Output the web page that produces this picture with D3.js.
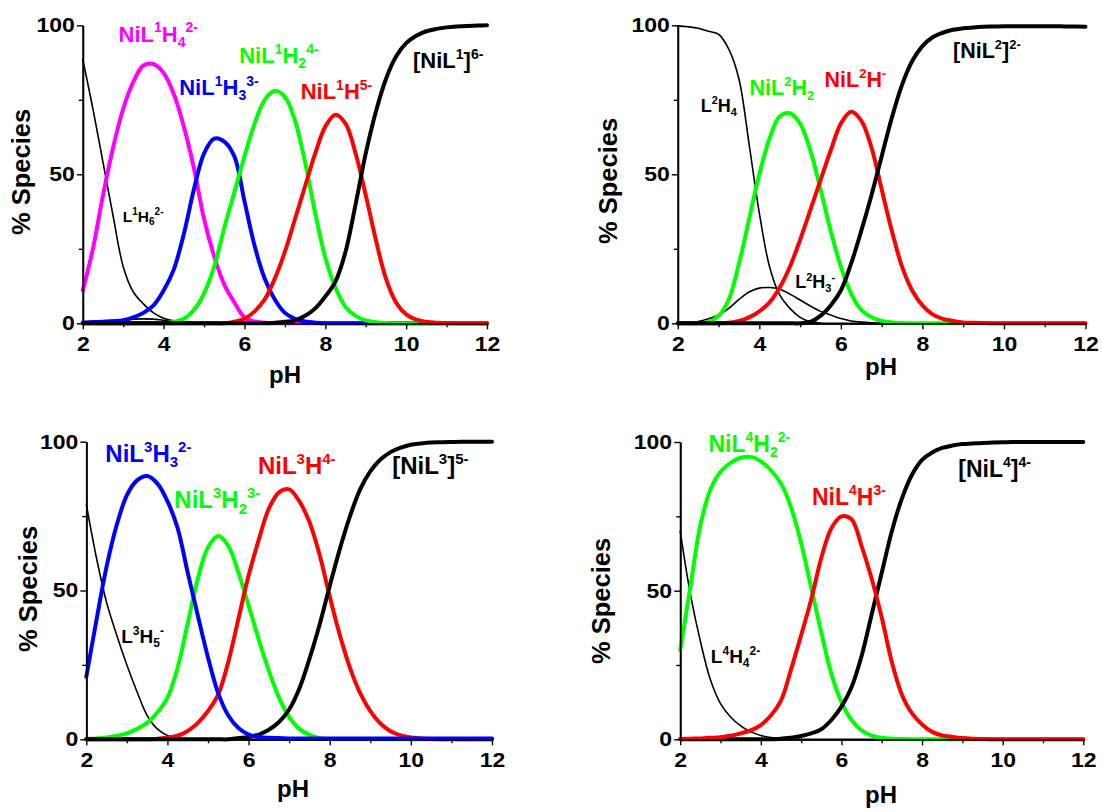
<!DOCTYPE html>
<html><head><meta charset="utf-8">
<script src="https://cdn.jsdelivr.net/npm/d3@7"></script>
<style>
body{margin:0;background:#fff}
svg{display:block}
text{font-family:"Liberation Sans",Arial,sans-serif;font-weight:bold}
</style>
</head><body><svg id="c" width="1102" height="812"></svg>
<script>
// ---------- DATA ----------
const pH = [2,2.25,2.5,2.75, 3,3.25,3.5,3.75, 4,4.25,4.5,4.75, 5,5.25,5.5,5.75, 6,6.25,6.5,6.75,
            7,7.25,7.5,7.75, 8,8.25,8.5,8.75, 9,9.25,9.5,9.75, 10,10.25,10.5,10.75, 11,11.25,11.5,11.75, 12];
const xTicks = [2,4,6,8,10,12];
const xMinor = [3,5,7,9,11];
const yTicks = [0,50,100];
const yMinor = [25,75];

// Panel 1 (L1)
const L1H6   = [88.5,72,54,36, 19,10.5,6.5,3.5, 1.7,0.8,0.3,0.1, 0,0,0,0, 0,0,0,0, 0,0,0,0, 0,0,0,0, 0,0,0,0, 0,0,0,0, 0,0,0,0, 0];
const L1H5   = [0.5,0.6,0.8,1, 1.2,1.4,1.5,1.4, 1,0.7,0.4,0.2, 0.1,0,0,0, 0,0,0,0, 0,0,0,0, 0,0,0,0, 0,0,0,0, 0,0,0,0, 0,0,0,0, 0];
const NiL1H4 = [11,25,43,59, 72,81,86.5,87, 84,77,66,52, 35,22.5,13,7, 2,0.6,0.2,0, 0,0,0,0, 0,0,0,0, 0,0,0,0, 0,0,0,0, 0,0,0,0, 0];
const NiL1H3 = [0.3,0.4,0.5,0.7, 1,2,3.5,6, 11,18,30,45, 57,62,61,56, 41,26,15,8, 3.5,1.5,0.6,0.2, 0,0,0,0, 0,0,0,0, 0,0,0,0, 0,0,0,0, 0];
const NiL1H2 = [0,0,0,0, 0,0,0,0, 0,0.5,1.5,4.5, 10,19,32,44, 56,67,75,78, 76,68,54,37, 22,12,5.5,2.5, 1,0.4,0.1,0, 0,0,0,0, 0,0,0,0, 0];
const NiL1H  = [0,0,0,0, 0,0,0,0, 0,0,0,0, 0,0,0,0.5, 1.5,4,8,15, 24,35,46,57, 66,70,67,57, 43,28,15,7, 3,1.2,0.5,0.2, 0.1,0,0,0, 0];
const NiL1   = [0,0,0,0, 0,0,0,0, 0,0,0,0, 0,0,0,0, 0,0,0,0.2, 0.5,1,2.5,5, 9,14,24,40, 57,71,82,89.5, 94,96.5,98,98.8, 99.3,99.6,99.8,99.9, 100];

// Panel 2 (L2)
const L2H4   = [99.8,99.5,99,98, 97,92,82,60, 37,19,9.5,5, 2,0.5,0.1,0, 0,0,0,0, 0,0,0,0, 0,0,0,0, 0,0,0,0, 0,0,0,0, 0,0,0,0, 0];
const L2H3   = [0.1,0.3,0.6,1.5, 2.8,5,8,10.5, 11.8,12,11.4,9.8, 7.8,5.8,4,2.8, 1.6,0.8,0.4,0.2, 0.1,0,0,0, 0,0,0,0, 0,0,0,0, 0,0,0,0, 0,0,0,0, 0];
const NiL2H2 = [0,0,0,0.5, 2.5,8,20,35, 50,62,69.5,70.5, 67,58,45,31, 19,10,4.5,2, 0.8,0.3,0.1,0, 0,0,0,0, 0,0,0,0, 0,0,0,0, 0,0,0,0, 0];
const NiL2H  = [0,0,0,0, 0,0.2,0.8,2, 4,7,12,19, 28,38,48,58, 67,71,68,59, 45,31,19,11, 6,3,1.5,0.8, 0.3,0.2,0.1,0, 0,0,0,0, 0,0,0,0, 0];
const NiL2   = [0,0,0,0, 0,0,0,0, 0,0,0,0, 0,0.5,2.5,6, 11,20,31,43, 56,69,80,88, 93,96,97.5,98.5, 99,99.3,99.5,99.6, 99.7,99.7,99.7,99.7, 99.7,99.7,99.6,99.6, 99.5];

// Panel 3 (L3)
const L3H5   = [79,61,46,35, 25,16,8,3.5, 1.3,0.4,0.1,0, 0,0,0,0, 0,0,0,0, 0,0,0,0, 0,0,0,0, 0,0,0,0, 0,0,0,0, 0,0,0,0, 0];
const NiL3H3 = [21,40,58,72, 82,87,88.5,86, 80,71,56,41.5, 27.5,15.5,8,3.8, 1.6,0.8,0.5,0.4, 0.3,0.3,0.3,0.3, 0.3,0.3,0.3,0.3, 0.3,0.3,0.3,0.3, 0.3,0.3,0.3,0.3, 0.3,0.3,0.3,0.3, 0.3];
const NiL3H2 = [0.2,0.3,0.6,1.2, 2,3.5,5.5,9, 14,24,39,54, 64.5,68.3,65,56, 45,33.5,23,14, 7.5,3.5,1.5,0.4, 0.1,0,0,0, 0,0,0,0, 0,0,0,0, 0,0,0,0, 0];
const NiL3H  = [0,0,0,0, 0,0,0,0.2, 0.5,1.2,2.8,5.5, 9.5,15,26,40.5, 55,67,77.5,83, 84,80,73,62, 48,35,24,15.5, 9.5,5.3,2.7,1.3, 0.6,0.3,0.1,0, 0,0,0,0, 0];
const NiL3   = [0,0,0,0, 0,0,0,0, 0,0,0,0, 0,0,0,0.4, 0.8,1.6,3.2,5.8, 10,17,27,38.5, 51.5,64,75,84, 90,94,96.5,98, 99,99.4,99.7,99.8, 99.9,100,100,100, 100];

// Panel 4 (L4)
const L4H4   = [70,49,33,20, 12,7.5,4.5,2.5, 1.3,0.6,0.2,0, 0,0,0,0, 0,0,0,0, 0,0,0,0, 0,0,0,0, 0,0,0,0, 0,0,0,0, 0,0,0,0, 0];
const NiL4H2 = [30,51,72,84, 90,93,94.7,95, 93.5,90.5,86,78, 66,51,36,22, 12.5,6.5,3,1.2, 0.5,0.2,0.1,0, 0,0,0,0, 0,0,0,0, 0,0,0,0, 0,0,0,0, 0];
const NiL4H  = [0.1,0.2,0.3,0.5, 0.7,1.2,2,3, 4.8,8,13,23.5, 35,47,61,71, 75,74,65,54, 41,26,15,8.7, 5,2.5,1.3,0.8, 0.4,0.2,0.1,0, 0,0,0,0, 0,0,0,0, 0];
const NiL4   = [0,0,0,0, 0,0,0,0, 0,0,0.2,0.5, 1.1,2,3.4,6.5, 11,17.5,28,42, 56,70,81,89, 94,96.5,98,98.8, 99.3,99.5,99.7,99.8, 99.9,100,100,100, 100,100,100,100, 100];

// Label texts: [text, 0 normal | 1 superscript | -1 subscript]
const tNiL1H4 = [["NiL",0],["1",1],["H",0],["4",-1],["2-",1]];
const tNiL1H3 = [["NiL",0],["1",1],["H",0],["3",-1],["3-",1]];
const tNiL1H2 = [["NiL",0],["1",1],["H",0],["2",-1],["4-",1]];
const tNiL1H  = [["NiL",0],["1",1],["H",0],["5-",1]];
const tNiL1   = [["[NiL",0],["1",1],["]",0],["6-",1]];
const tL1H6   = [["L",0],["1",1],["H",0],["6",-1],["2-",1]];
const tL2H4   = [["L",0],["2",1],["H",0],["4",-1]];
const tNiL2H2 = [["NiL",0],["2",1],["H",0],["2",-1]];
const tNiL2H  = [["NiL",0],["2",1],["H",0],["-",1]];
const tNiL2   = [["[NiL",0],["2",1],["]",0],["2-",1]];
const tL2H3   = [["L",0],["2",1],["H",0],["3",-1],["-",1]];
const tNiL3H3 = [["NiL",0],["3",1],["H",0],["3",-1],["2-",1]];
const tNiL3H2 = [["NiL",0],["3",1],["H",0],["2",-1],["3-",1]];
const tNiL3H  = [["NiL",0],["3",1],["H",0],["4-",1]];
const tNiL3   = [["[NiL",0],["3",1],["]",0],["5-",1]];
const tL3H5   = [["L",0],["3",1],["H",0],["5",-1],["-",1]];
const tNiL4H2 = [["NiL",0],["4",1],["H",0],["2",-1],["2-",1]];
const tNiL4H  = [["NiL",0],["4",1],["H",0],["3-",1]];
const tNiL4   = [["[NiL",0],["4",1],["]",0],["4-",1]];
const tL4H4   = [["L",0],["4",1],["H",0],["4",-1],["2-",1]];

// ---------- LAYOUT ----------
const MAG="#ff00ff", BLU="#0000ff", GRN="#00ff00", RED="#ff0000", BLK="#000000";
const THICK=4, THIN=1.6;
const panels = [
 {box:[82.8,487,25.3,323.3], ylab:[21,172], xlab:[285,383],
  series:[[L1H5,BLK,THIN],[L1H6,BLK,THIN],[NiL1H4,MAG,THICK],[NiL1H3,BLU,THICK],[NiL1H2,GRN,THICK],[NiL1H,RED,THICK],[NiL1,BLK,THICK]],
  labels:[[tNiL1H4,MAG,22,2.885,94.5],[tNiL1H3,BLU,22,4.386,76.6],[tNiL1H2,GRN,22,5.87,87.3],[tNiL1H,RED,22,7.39,75.3],[tNiL1,BLK,22,10.17,85.7],[tL1H6,BLK,15.5,2.99,34]]},
 {box:[677.8,1085.5,25.3,323.3], ylab:[608,181], xlab:[881,375],
  series:[[L2H4,BLK,THIN],[L2H3,BLK,THIN],[NiL2H2,GRN,THICK],[NiL2H,RED,THICK],[NiL2,BLK,THICK]],
  labels:[[tL2H4,BLK,18,2.56,71],[tNiL2H2,GRN,21.5,3.76,76.6],[tNiL2H,RED,21.5,5.6,79.4],[tNiL2,BLK,21.5,8.75,88.9],[tL2H3,BLK,18,4.88,11.7]]},
 {box:[86.3,492,441.7,739.3], ylab:[28,589], xlab:[293,797],
  series:[[L3H5,BLK,THIN],[NiL3H2,GRN,THICK],[NiL3H,RED,THICK],[NiL3,BLK,THICK],[NiL3H3,BLU,THICK]],
  labels:[[tNiL3H3,BLU,24,2.47,93.3],[tNiL3H2,GRN,24,4.17,77.6],[tNiL3H,RED,24,6.23,89.1],[tNiL3,BLK,24,9.54,89.1],[tL3H5,BLK,19,2.86,32.4]]},
 {box:[680.2,1083.3,442,739.3], ylab:[601,601], xlab:[881,803],
  series:[[L4H4,BLK,THIN],[NiL4H2,GRN,THICK],[NiL4,BLK,THICK],[NiL4H,RED,THICK]],
  labels:[[tNiL4H2,GRN,23,2.70,96.7],[tNiL4H,RED,23,5.27,78.8],[tNiL4,BLK,23,8.9,88.3],[tL4H4,BLK,19,2.76,25.6]]}
];

const svg = d3.select("#c");

function richLabel(g, parts, x, y, color, size){
  const t = g.append("text").attr("x",x).attr("y",y).attr("fill",color).style("font-size",size+"px");
  const small = Math.round(size*0.62);
  let off = 0;
  parts.forEach(([s,k])=>{
    const target = k===1 ? -size*0.42 : (k===-1 ? size*0.22 : 0);
    t.append("tspan").text(s).attr("dy", target-off).style("font-size",(k===0?size:small)+"px");
    off = target;
  });
}

panels.forEach(p=>{
  const [l,r,tp,b] = p.box;
  const x = d3.scaleLinear().domain([2,12]).range([l,r]);
  const y = d3.scaleLinear().domain([0,100]).range([b,tp]);
  const g = svg.append("g");

  const styleAxis = sel=>{
    sel.selectAll("path.domain").attr("stroke","#000").attr("stroke-width",1.7);
    sel.selectAll("line").attr("stroke","#000").attr("stroke-width",1.4);
    sel.selectAll("text").attr("fill","#000").style("font-size","20px").style("font-weight","bold")
      .attr("transform","scale(1.15,1)");
  };
  g.append("g").attr("transform",`translate(0,${b})`)
    .call(d3.axisBottom(x).tickValues(xMinor).tickSize(4).tickSizeOuter(0).tickFormat(""))
    .call(styleAxis);
  g.append("g").attr("transform",`translate(${l},0)`)
    .call(d3.axisLeft(y).tickValues(yMinor).tickSize(4).tickSizeOuter(0).tickFormat(""))
    .call(styleAxis);

  const line = d3.line().x((d,i)=>x(pH[i])).y(d=>y(d)).curve(d3.curveCatmullRom.alpha(0.5));
  p.series.forEach(([vals,col,w])=>{
    g.append("path").datum(vals).attr("d",line).attr("fill","none")
      .attr("stroke",col).attr("stroke-width",w).attr("stroke-linejoin","round").attr("stroke-linecap","round");
  });

  g.append("g").attr("transform",`translate(0,${b})`)
    .call(d3.axisBottom(x).tickValues(xTicks).tickSize(6).tickSizeOuter(0).tickPadding(8).tickFormat(d3.format("d")))
    .call(styleAxis);
  g.append("g").attr("transform",`translate(${l},0)`)
    .call(d3.axisLeft(y).tickValues(yTicks).tickSize(6).tickSizeOuter(0).tickPadding(1).tickFormat(d3.format("d")))
    .call(styleAxis);

  g.append("text").attr("transform",`translate(${p.ylab[0]},${p.ylab[1]}) rotate(-90)`)
    .attr("text-anchor","middle").attr("dominant-baseline","central")
    .style("font-size","25.5px").attr("fill","#000").text("% Species");
  g.append("text").attr("x",p.xlab[0]).attr("y",p.xlab[1]).attr("text-anchor","middle")
    .style("font-size","24px").attr("fill","#000").text("pH");

  p.labels.forEach(([parts,col,size,lx,ly])=>richLabel(g,parts,x(lx),y(ly),col,size));
});
</script>
</body></html>
